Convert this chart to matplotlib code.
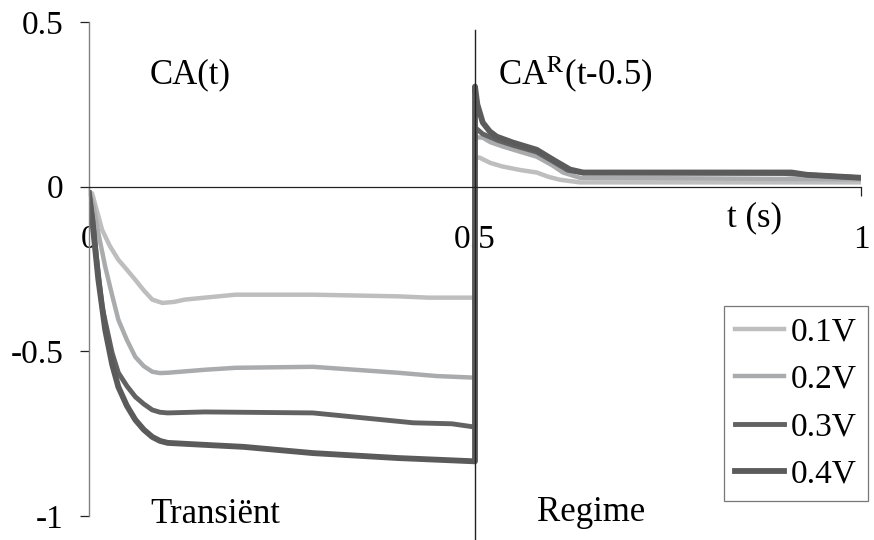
import matplotlib
matplotlib.use("Agg")
import matplotlib.pyplot as plt

plt.rcParams['font.family'] = ['Liberation Serif', 'DejaVu Serif']
plt.rcParams['mathtext.fontset'] = 'stix'

# courbes CA : transitoire (0 - 0.5 s) puis regime (0.5 - 1 s)
labels = ['0.1V', '0.2V', '0.3V', '0.4V']
couleurs = ['#bebebe', '#a9abad', '#626262', '#5b5b5b']
epaisseurs = [3.2, 3.2, 3.5, 4.2]

t_01 = [0.0, 0.004, 0.017, 0.027, 0.038, 0.049, 0.06, 0.071, 0.082, 0.095, 0.11, 0.124, 0.15, 0.19, 0.29,
        0.40, 0.44, 0.5,
        0.5, 0.506, 0.52, 0.536, 0.56, 0.58, 0.595, 0.61, 0.636, 0.8, 1.0]
v_01 = [-0.02, -0.02, -0.131, -0.18, -0.222, -0.252, -0.283, -0.315, -0.343, -0.353, -0.35, -0.343, -0.337,
        -0.328, -0.328, -0.333, -0.337, -0.337,
        0.09, 0.088, 0.072, 0.061, 0.05, 0.043, 0.03, 0.021, 0.013, 0.013, 0.013]

t_02 = [0.0, 0.005, 0.012, 0.021, 0.03, 0.038, 0.049, 0.06, 0.071, 0.082, 0.092, 0.102, 0.15, 0.19, 0.29,
        0.40, 0.45, 0.5,
        0.5, 0.51, 0.52, 0.536, 0.56, 0.58, 0.6, 0.614, 0.636, 0.8, 1.0]
v_02 = [-0.02, -0.05, -0.14, -0.243, -0.33, -0.404, -0.465, -0.517, -0.545, -0.562, -0.566, -0.565, -0.556,
        -0.55, -0.547, -0.565, -0.575, -0.58,
        0.15, 0.149, 0.135, 0.122, 0.105, 0.091, 0.065, 0.043, 0.027, 0.025, 0.022]

t_03 = [0.0, 0.005, 0.01, 0.017, 0.03, 0.038, 0.049, 0.06, 0.071, 0.082, 0.092, 0.102, 0.15, 0.29,
        0.42, 0.47, 0.5,
        0.5, 0.51, 0.53, 0.55, 0.58, 0.6, 0.62, 0.64, 0.9, 1.0]
v_03 = [-0.02, -0.1, -0.22, -0.365, -0.505, -0.565, -0.605, -0.638, -0.66, -0.678, -0.685, -0.687, -0.684,
        -0.687, -0.717, -0.72, -0.73,
        0.18, 0.16, 0.14, 0.125, 0.105, 0.078, 0.05, 0.042, 0.04, 0.027]

t_04 = [0.0, 0.005, 0.012, 0.021, 0.03, 0.038, 0.049, 0.06, 0.071, 0.082, 0.092, 0.102, 0.15, 0.2, 0.29,
        0.4, 0.5,
        0.5, 0.503, 0.51, 0.519, 0.528, 0.549, 0.58, 0.601, 0.623, 0.64, 0.91, 0.93, 1.0]
v_04 = [-0.02, -0.12, -0.28, -0.435, -0.54, -0.608, -0.665, -0.708, -0.738, -0.76, -0.772, -0.778, -0.784,
        -0.79, -0.809, -0.824, -0.834,
        0.304, 0.25, 0.195, 0.168, 0.152, 0.134, 0.112, 0.082, 0.052, 0.043, 0.043, 0.036, 0.027]

series_t = [t_01, t_02, t_03, t_04]
series_v = [v_01, v_02, v_03, v_04]

fig = plt.figure(figsize=(8.74, 5.4), dpi=100)
ax = fig.add_axes([89 / 874, 24 / 540, 772 / 874, 494 / 540])
ax.set_xlim(0, 1)
ax.set_ylim(-1, 0.5)

for t, v, lab, c, lw in zip(series_t, series_v, labels, couleurs, epaisseurs):
    ax.plot(t, v, color=c, lw=lw, label=lab)

# axes : y a gauche, x a la hauteur de 0
for s in ['top', 'right']:
    ax.spines[s].set_visible(False)
ax.spines['left'].set_color('#808080')
ax.spines['left'].set_linewidth(1.0)
ax.spines['bottom'].set_position(('data', 0))
ax.spines['bottom'].set_color('#222222')
ax.spines['bottom'].set_linewidth(0.9)

ax.set_yticks([-1, -0.5, 0, 0.5])
ax.set_yticklabels(['-1', '-0.5', '0', '0.5'])
ax.tick_params(axis='y', direction='out', length=6.5, width=0.9, color='#222222',
               labelsize=24, pad=12)
ax.set_xticks([0, 0.5, 1])
ax.set_xticklabels(['0', '0.5', '1'])
ax.tick_params(axis='x', direction='out', length=6.5, width=0.9, color='#222222',
               labelsize=24, pad=21)

# separation transitoire / regime
ax.plot([0.5, 0.5], [-1.075, 0.477], color='#222222', lw=1.0, clip_on=False, zorder=5)

ax.text(0.079, 0.34, 'CA(t)', fontsize=25, va='center', ha='left')
ax.text(0.53, 0.34, r'CA$^{\mathrm{R}}$(t-0.5)', fontsize=25, va='center', ha='left')
ax.text(0.826, -0.094, 't (s)', fontsize=25, va='center', ha='left')
ax.text(0.079, -0.995, 'Transiënt', fontsize=25, va='center', ha='left', clip_on=False)
ax.text(0.58, -0.99, 'Regime', fontsize=25, va='center', ha='left', clip_on=False)

leg = ax.legend(loc='lower right', bbox_to_anchor=(868 / 874, 39 / 540),
                bbox_transform=fig.transFigure, fontsize=24, frameon=True, fancybox=False,
                handlelength=1.45, handletextpad=0.2, labelspacing=0.5, borderpad=0.35,
                borderaxespad=0)
leg.get_frame().set_edgecolor('#555555')
leg.get_frame().set_linewidth(0.9)

fig.savefig('out.png', dpi=100)
